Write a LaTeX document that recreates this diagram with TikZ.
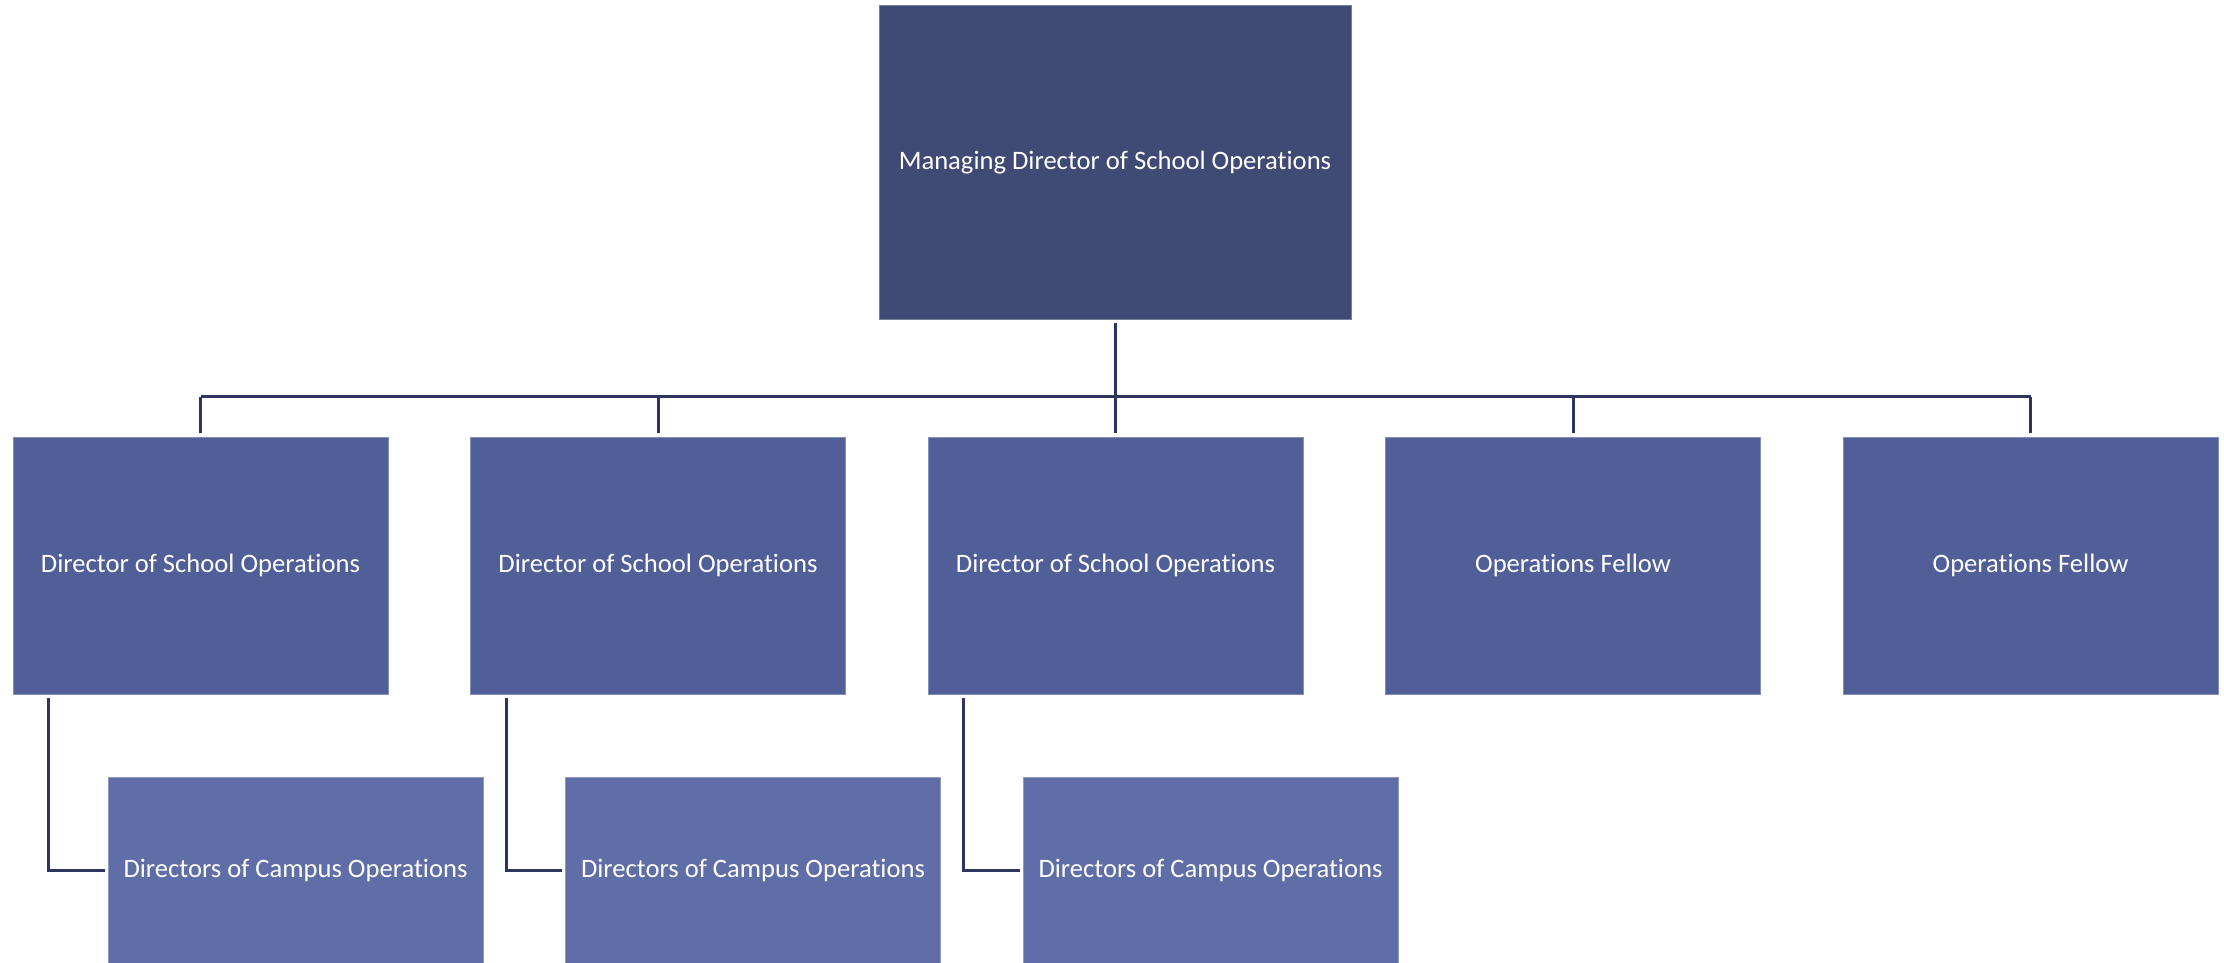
\documentclass[tikz,border=0pt]{standalone}
\usepackage{fontspec}
\setmainfont{Carlito}[RawFeature=-liga]
\usetikzlibrary{calc}
\definecolor{topBlue}{HTML}{3F4A75}
\definecolor{midBlue}{HTML}{505F98}
\definecolor{lowBlue}{HTML}{5F6EA7}
\definecolor{lineBlue}{HTML}{2E3660}

\begin{document}
\begin{tikzpicture}[%
  x=0.5pt,y=-0.5pt,%
  boxStyle/.style={draw=#1!70!white,line width=0.5pt,fill=#1,text=white,%
    inner sep=0pt,font=\fontsize{13.3}{16}\selectfont},%
  topStyle/.style={boxStyle=topBlue,minimum width=236pt,minimum height=156.5pt},%
  midStyle/.style={boxStyle=midBlue,minimum width=187.5pt,minimum height=128.5pt},%
  lowStyle/.style={boxStyle=lowBlue,minimum width=187.5pt,minimum height=93pt},%
  lineStyle/.style={-,draw=lineBlue,line width=1.5pt,line join=miter}%
]
%
%
\pgfmathsetmacro{\pitch}{457.5}  % Distance between the boxes of one row.
\pgfmathsetmacro{\xfirst}{200.5} % Centre of the first box.
\pgfmathsetmacro{\indent}{95}    % Shift of the lower boxes.
\useasboundingbox (0,0) rectangle (2224,963);
%
%
% The boxes.
\node[topStyle] (md) at (1115,162.5) {Managing Director of School Operations};
\foreach \i/\txt in {1/Director of School Operations,2/Director of School Operations,%
  3/Director of School Operations,4/Operations Fellow,5/Operations Fellow}
  \node[midStyle] (mid\i) at ({\xfirst+(\i-1)*\pitch},565.5) {\txt};
\foreach \i in {1,2,3}
  \node[lowStyle] (dco\i) at ({\xfirst+(\i-1)*\pitch+\indent},870) {Directors of Campus Operations};
%
%
% The connectors.
\coordinate (bus) at ($(md.south)+(0,77)$);
\draw[lineStyle] ([yshift=-1.5pt]md.south) -- (bus);
\draw[lineStyle] (bus -| mid1.north) -- (bus -| mid5.north);
\foreach \i in {1,...,5}
  \draw[lineStyle] (bus -| mid\i.north) -- ([yshift=2pt]mid\i.north);
\foreach \i in {1,2,3}
  \draw[lineStyle] ([xshift=18pt,yshift=-1.5pt]mid\i.south west) |- ([xshift=-1.5pt]dco\i.west);
\end{tikzpicture}
\end{document}
